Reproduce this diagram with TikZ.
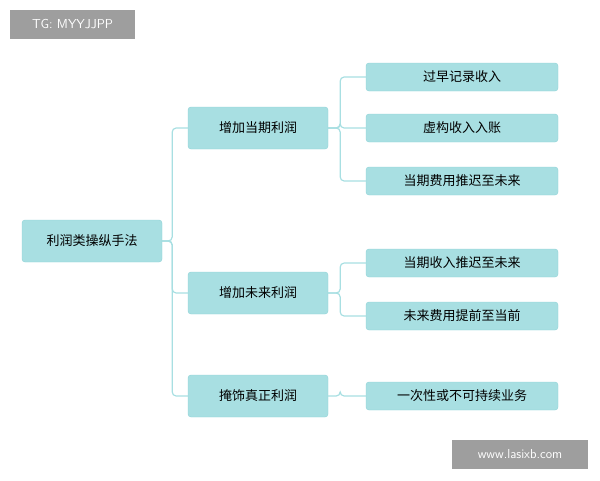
\documentclass[tikz,border=0pt]{standalone}
\usepackage{fontspec}
\newfontfamily\cjk{Noto Sans CJK SC}
\definecolor{boxfill}{HTML}{A8DFE2}
\definecolor{boxline}{HTML}{8ED3D6}
\definecolor{linkline}{HTML}{A8DFE2}
\definecolor{markgray}{HTML}{9E9E9E}
\tikzset{
  topic/.style={draw=boxline, fill=boxfill, rounded corners=3pt, minimum width=140pt, minimum height=42pt, font=\cjk\fontsize{13}{15}\selectfont},
  leaf/.style={draw=boxline, fill=boxfill, rounded corners=3pt, minimum width=192pt, minimum height=28pt, font=\cjk\fontsize{13}{15}\selectfont},
  link/.style={draw=linkline, line width=1.2pt, rounded corners=4pt},
  stamp/.style={fill=markgray, text=white, inner sep=0pt, font=\fontsize{13}{15}\selectfont\sffamily}
}
\begin{document}
\begin{tikzpicture}[x=1pt,y=-1pt]
    \useasboundingbox (0,0) rectangle (600,480);

    \node[topic] (root) at (92,241) {利润类操纵手法};

    \node[topic] (now) at (258,128) {增加当期利润};
    \node[topic] (later) at (258,293) {增加未来利润};
    \node[topic] (hide) at (258,396) {掩饰真正利润};

    \node[leaf] (early) at (462,77) {过早记录收入};
    \node[leaf] (fake) at (462,128) {虚构收入入账};
    \node[leaf] (delay) at (462,181) {当期费用推迟至未来};
    \node[leaf] (defer) at (462,263) {当期收入推迟至未来};
    \node[leaf] (ahead) at (462,316) {未来费用提前至当前};
    \node[leaf] (once) at (462,396) {一次性或不可持续业务};

    % root to topics
    \foreach \t in {now,later,hide}
        \draw[link] (root.east) -- ++(10,0) |- (\t.west);

    % topics to leaves
    \foreach \t/\l in {now/early,now/fake,now/delay,later/defer,later/ahead,hide/once}
        \draw[link] (\t.east) -- ++(12,0) |- (\l.west);

    % watermarks
    \node[stamp, minimum width=125pt, minimum height=29pt] (tg) at (72.5,24.5) {TG: MYYJJPP};
    \node[stamp, minimum width=136pt, minimum height=29pt] (web) at (520,454.5) {www.lasixb.com};
\end{tikzpicture}
\end{document}
